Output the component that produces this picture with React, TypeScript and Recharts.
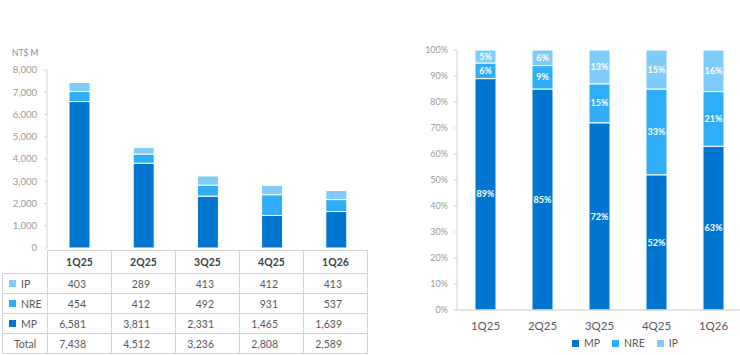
import { BarChart, Bar, XAxis, YAxis, LabelList } from 'recharts';

const QUARTERS = ['1Q25', '2Q25', '3Q25', '4Q25', '1Q26'];
const IP_VALUES = [403, 289, 413, 412, 413];
const NRE_VALUES = [454, 412, 492, 931, 537];
const MP_VALUES = [6581, 3811, 2331, 1465, 1639];
const TOTALS = [7438, 4512, 3236, 2808, 2589];

const MP_SHARE = [89, 85, 72, 52, 63];
const NRE_SHARE = [6, 9, 15, 33, 21];
const IP_SHARE = [5, 6, 13, 15, 16];

const AMOUNT_TICKS = [0, 1000, 2000, 3000, 4000, 5000, 6000, 7000, 8000];
const SHARE_TICKS = [0, 10, 20, 30, 40, 50, 60, 70, 80, 90, 100];

const MP_COLOR = '#0076D1';
const NRE_COLOR = '#2FADF6';
const IP_COLOR = '#7FCCFA';
const FONT = 'Lato, "Open Sans", sans-serif';
const LINE = '#d4d4d4';

const amountRows = QUARTERS.map((q, i) => ({ q, mp: MP_VALUES[i], nre: NRE_VALUES[i], ip: IP_VALUES[i] }));
const shareRows = QUARTERS.map((q, i) => ({ q, mp: MP_SHARE[i], nre: NRE_SHARE[i], ip: IP_SHARE[i] }));

const tableRows = [
  { name: 'IP', color: IP_COLOR, values: IP_VALUES },
  { name: 'NRE', color: NRE_COLOR, values: NRE_VALUES },
  { name: 'MP', color: MP_COLOR, values: MP_VALUES },
  { name: 'Total', color: null, values: TOTALS },
];

const fmt = (v: number) => v.toLocaleString('en-US');
const pct = (v: number) => `${v}%`;

const cell = { border: `1px solid ${LINE}`, padding: 0 } as const;

function SquareLabel({ color, text }: { color: string; text: string }) {
  return (
    <span style={{ display: 'inline-flex', alignItems: 'center', gap: 5 }}>
      <span style={{ width: 7, height: 7, background: color, display: 'inline-block' }} />
      {text}
    </span>
  );
}

export default function App() {
  const label = { fill: '#fff', fontSize: 9, fontWeight: 700, fontFamily: FONT };
  return (
    <div style={{ position: 'absolute', left: 0, top: 0, width: 740, height: 355, overflow: 'hidden', background: '#fff', fontFamily: FONT }}>
      <div style={{ position: 'absolute', left: 12, top: 48, fontSize: 8.5, color: '#8c8c8c' }}>NT$ M</div>

      <div style={{ position: 'absolute', left: 0, top: 0 }}>
        <BarChart width={370} height={252} data={amountRows} margin={{ top: 70, right: 2, bottom: 4, left: 0 }}>
          <XAxis dataKey="q" hide />
          <YAxis
            width={47}
            domain={[0, 8000]}
            ticks={AMOUNT_TICKS}
            interval={0}
            tickFormatter={fmt}
            tickSize={3}
            tickMargin={7}
            axisLine={{ stroke: LINE }}
            tickLine={{ stroke: LINE }}
            tick={{ fill: '#9a9a9a', fontSize: 9.5, fontFamily: FONT }}
          />
          <Bar dataKey="mp" stackId="a" fill={MP_COLOR} stroke="#fff" strokeWidth={1} barSize={21} isAnimationActive={false} />
          <Bar dataKey="nre" stackId="a" fill={NRE_COLOR} stroke="#fff" strokeWidth={1} barSize={21} isAnimationActive={false} />
          <Bar dataKey="ip" stackId="a" fill={IP_COLOR} stroke="#fff" strokeWidth={1} barSize={21} isAnimationActive={false} />
        </BarChart>
      </div>

      <table
        style={{
          position: 'absolute',
          left: 2,
          top: 250,
          width: 366,
          borderCollapse: 'collapse',
          tableLayout: 'fixed',
          fontSize: 10.5,
          color: '#595959',
        }}
      >
        <colgroup>
          <col style={{ width: 45 }} />
          {QUARTERS.map((q) => (
            <col key={q} style={{ width: 64 }} />
          ))}
        </colgroup>
        <tbody>
          <tr style={{ height: 23 }}>
            <td style={{ padding: 0, borderRight: `1px solid ${LINE}` }} />
            {QUARTERS.map((q) => (
              <td key={q} style={{ ...cell, textAlign: 'center', fontWeight: 700, color: '#404040' }}>
                {q}
              </td>
            ))}
          </tr>
          {tableRows.map((r) => (
            <tr key={r.name} style={{ height: 20 }}>
              <td style={{ ...cell, textAlign: r.color ? 'left' : 'center', paddingLeft: r.color ? 6 : 0 }}>
                {r.color ? <SquareLabel color={r.color} text={r.name} /> : r.name}
              </td>
              {r.values.map((v, i) => (
                <td key={i} style={{ ...cell, textAlign: 'right', paddingRight: 25 }}>
                  {fmt(v)}
                </td>
              ))}
            </tr>
          ))}
        </tbody>
      </table>

      <div style={{ position: 'absolute', left: 400, top: 0 }}>
        <BarChart width={342} height={355} data={shareRows} margin={{ top: 50, right: 0, bottom: 25, left: 0 }}>
          <XAxis
            dataKey="q"
            height={20}
            tickLine={false}
            tickSize={6}
            tickMargin={6}
            axisLine={{ stroke: '#c8c8c8' }}
            tick={{ fill: '#595959', fontSize: 11.5, fontFamily: FONT }}
          />
          <YAxis
            width={57}
            domain={[0, 100]}
            ticks={SHARE_TICKS}
            interval={0}
            tickFormatter={pct}
            tickSize={3}
            tickMargin={6}
            axisLine={{ stroke: LINE }}
            tickLine={{ stroke: LINE }}
            tick={{ fill: '#9a9a9a', fontSize: 9, fontFamily: FONT }}
          />
          <Bar dataKey="mp" stackId="s" fill={MP_COLOR} stroke="#fff" strokeWidth={1} barSize={21} isAnimationActive={false}>
            <LabelList dataKey="mp" position="center" formatter={pct} style={label} />
          </Bar>
          <Bar dataKey="nre" stackId="s" fill={NRE_COLOR} stroke="#fff" strokeWidth={1} barSize={21} isAnimationActive={false}>
            <LabelList dataKey="nre" position="center" formatter={pct} style={label} />
          </Bar>
          <Bar dataKey="ip" stackId="s" fill={IP_COLOR} stroke="#fff" strokeWidth={1} barSize={21} isAnimationActive={false}>
            <LabelList dataKey="ip" position="center" formatter={pct} style={label} />
          </Bar>
        </BarChart>
      </div>

      <div
        style={{
          position: 'absolute',
          left: 572,
          top: 337,
          display: 'flex',
          gap: 12,
          fontSize: 10.5,
          color: '#595959',
        }}
      >
        <SquareLabel color={MP_COLOR} text="MP" />
        <SquareLabel color={NRE_COLOR} text="NRE" />
        <SquareLabel color={IP_COLOR} text="IP" />
      </div>
    </div>
  );
}
